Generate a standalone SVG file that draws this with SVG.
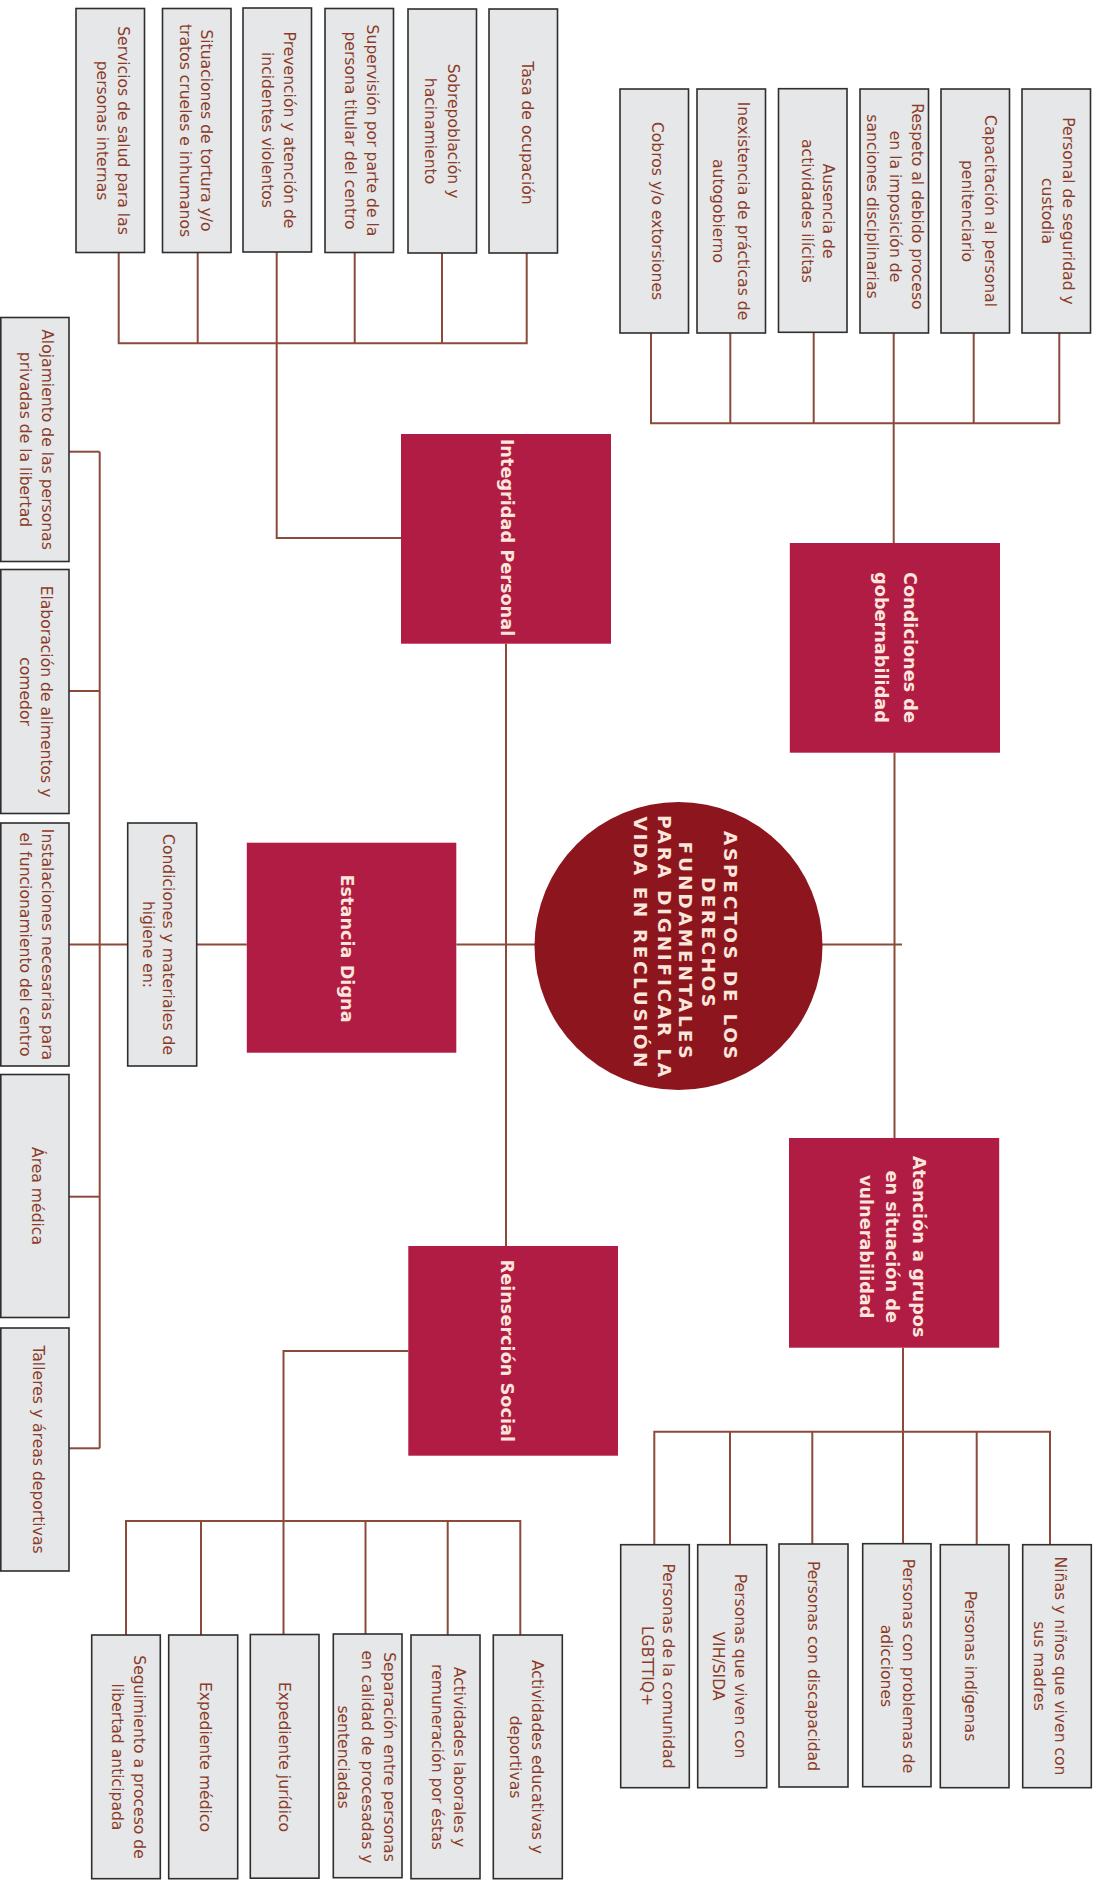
<svg xmlns="http://www.w3.org/2000/svg" width="1099" height="1895" viewBox="0 0 1099 1895">
<style>
.conn path{stroke:#8C4A3B;stroke-width:2;fill:none}
.leaf{fill:#E6E7E8;stroke:#2E2E2E;stroke-width:1.6}
.lt,.lt tspan{font-family:"DejaVu Sans",sans-serif;font-size:15.6px;fill:#8A3B29;text-anchor:middle;dominant-baseline:central}
.main{fill:#B01C44}
.mt,.mt tspan{font-family:"DejaVu Sans",sans-serif;font-weight:bold;font-size:17.7px;fill:#FCE5DA;text-anchor:middle;dominant-baseline:central}
.ct{font-family:"DejaVu Sans",sans-serif;font-weight:bold;font-size:18.5px;fill:#FCE5DA;text-anchor:middle;dominant-baseline:central}
</style>
<rect width="1099" height="1895" fill="#FFFFFF"/>
<g id="connectors" class="conn">
<path d="M118.7,252.5 V343.3 H526.7 V253"/>
<path d="M197.7,252.5 V343.3"/>
<path d="M354.7,252.5 V343.3"/>
<path d="M442,253 V343.3"/>
<path d="M276.7,252 V538 H401"/>
<path d="M651,333 V423.3 H1059.3 V333"/>
<path d="M730.3,333 V423.3"/>
<path d="M813.7,332.5 V423.3"/>
<path d="M973.7,333 V423.3"/>
<path d="M893.7,333 V543"/>
<path d="M506,643.7 V1246"/>
<path d="M456.3,944.5 H535"/>
<path d="M822,944.5 H902"/>
<path d="M894.5,752.7 V1138"/>
<path d="M903,1347.7 V1544.7"/>
<path d="M654.3,1544.7 V1431.7 H1050 V1544.7"/>
<path d="M730,1431.7 V1544.7"/>
<path d="M812.3,1431.7 V1544.7"/>
<path d="M976.7,1431.7 V1544.7"/>
<path d="M69,944.5 H127.7"/>
<path d="M196.7,944.5 H246.8"/>
<path d="M99.7,451.7 V1448.3"/>
<path d="M69,451.7 H99.7"/>
<path d="M69,691 H99.7"/>
<path d="M69,1196.7 H99.7"/>
<path d="M69,1448.3 H99.7"/>
<path d="M408.3,1351 H283.5 V1635"/>
<path d="M126,1635 V1521 H520.3 V1635"/>
<path d="M201,1521 V1635"/>
<path d="M365.5,1521 V1635"/>
<path d="M447.7,1521 V1635"/>
</g>

<g id="center">
<circle cx="678.5" cy="946" r="144" fill="#8D161E"/>
<g transform="rotate(90)">
<text class="ct" x="945" y="-730" textLength="228" lengthAdjust="spacing">ASPECTOS DE LOS</text>
<text class="ct" x="942" y="-708.8" textLength="130" lengthAdjust="spacing">DERECHOS</text>
<text class="ct" x="950" y="-685.2" textLength="217" lengthAdjust="spacing">FUNDAMENTALES</text>
<text class="ct" x="946" y="-664" textLength="262" lengthAdjust="spacing">PARA DIGNIFICAR LA</text>
<text class="ct" x="942" y="-640.4" textLength="251" lengthAdjust="spacing">VIDA EN RECLUSIÓN</text>
</g>
</g>

<g id="integridad">
<rect class="main" x="401" y="434" width="210" height="209.7"/>
<text class="mt" transform="rotate(90)"><tspan x="537.5" y="-506.5">Integridad Personal</tspan></text>
</g>
<g id="gobernabilidad">
<rect class="main" x="789.8" y="543" width="210.2" height="209.7"/>
<text class="mt" transform="rotate(90)"><tspan x="647.5" y="-909.8">Condiciones de</tspan><tspan x="647.5" y="-881.2">gobernabilidad</tspan></text>
</g>
<g id="estancia">
<rect class="main" x="246.8" y="842.7" width="209.5" height="210"/>
<text class="mt" transform="rotate(90)"><tspan x="948.5" y="-346.8">Estancia Digna</tspan></text>
</g>
<g id="reinsercion">
<rect class="main" x="408.3" y="1246" width="209.7" height="209.7"/>
<text class="mt" transform="rotate(90)"><tspan x="1350.8" y="-506.5">Reinserción Social</tspan></text>
</g>
<g id="atencion">
<rect class="main" x="789" y="1138" width="210.2" height="209.7"/>
<text class="mt" transform="rotate(90)"><tspan x="1246.7" y="-918.8">Atención a grupos</tspan><tspan x="1246.7" y="-892.2">en situación de</tspan><tspan x="1246.7" y="-865.7">vulnerabilidad</tspan></text>
</g>

<g id="ip1"><rect class="leaf" x="76" y="8.5" width="68.5" height="244"/>
<text class="lt" transform="rotate(90)"><tspan x="130.5" y="-123.3">Servicios de salud para las</tspan><tspan x="130.5" y="-101.7">personas internas</tspan></text></g>
<g id="ip2"><rect class="leaf" x="162.5" y="8.5" width="68.5" height="244"/>
<text class="lt" transform="rotate(90)"><tspan x="130.5" y="-206">Situaciones de tortura y/o</tspan><tspan x="130.5" y="-185">tratos crueles e inhumanos</tspan></text></g>
<g id="ip3"><rect class="leaf" x="243" y="8" width="68.5" height="244"/>
<text class="lt" transform="rotate(90)"><tspan x="130" y="-289">Prevención y atención de</tspan><tspan x="130" y="-266.7">incidentes violentos</tspan></text></g>
<g id="ip4"><rect class="leaf" x="325" y="8.5" width="68.5" height="244"/>
<text class="lt" transform="rotate(90)"><tspan x="130.5" y="-371.7">Supervisión por parte de la</tspan><tspan x="130.5" y="-350">persona titular del centro</tspan></text></g>
<g id="ip5"><rect class="leaf" x="408" y="9" width="68.5" height="244"/>
<text class="lt" transform="rotate(90)"><tspan x="131" y="-452.7">Sobrepoblación y</tspan><tspan x="131" y="-430">hacinamiento</tspan></text></g>
<g id="ip6"><rect class="leaf" x="489" y="9" width="68.5" height="244"/>
<text class="lt" transform="rotate(90)"><tspan x="133" y="-527">Tasa de ocupación</tspan></text></g>

<g id="cg1"><rect class="leaf" x="620" y="89" width="68.5" height="244"/>
<text class="lt" transform="rotate(90)"><tspan x="211" y="-656.7">Cobros y/o extorsiones</tspan></text></g>
<g id="cg2"><rect class="leaf" x="697" y="89" width="68.5" height="244"/>
<text class="lt" transform="rotate(90)"><tspan x="211" y="-742.7">Inexistencia de prácticas de</tspan><tspan x="211" y="-718.3">autogobierno</tspan></text></g>
<g id="cg3"><rect class="leaf" x="778.5" y="88.7" width="68.5" height="243.6"/>
<text class="lt" transform="rotate(90)"><tspan x="211" y="-828.3">Ausencia de</tspan><tspan x="211" y="-806.7">actividades ilícitas</tspan></text></g>
<g id="cg4"><rect class="leaf" x="860" y="89" width="68.5" height="244"/>
<text class="lt" transform="rotate(90)"><tspan x="206.5" y="-916.7">Respeto al debido proceso</tspan><tspan x="206.5" y="-895">en la imposición de</tspan><tspan x="206.5" y="-871.7">sanciones disciplinarias</tspan></text></g>
<g id="cg5"><rect class="leaf" x="941" y="89" width="68.5" height="244"/>
<text class="lt" transform="rotate(90)"><tspan x="211" y="-990">Capacitación al personal</tspan><tspan x="211" y="-966.7">penitenciario</tspan></text></g>
<g id="cg6"><rect class="leaf" x="1022" y="89" width="68.5" height="244"/>
<text class="lt" transform="rotate(90)"><tspan x="211" y="-1068.3">Personal de seguridad y</tspan><tspan x="211" y="-1046.7">custodia</tspan></text></g>

<g id="ed0"><rect class="leaf" x="127.7" y="823" width="69" height="243"/>
<text class="lt" transform="rotate(90)"><tspan x="944.5" y="-168.3">Condiciones y materiales de</tspan><tspan x="944.5" y="-147.5">higiene en:</tspan></text></g>
<g id="ed1"><rect class="leaf" x="0.8" y="317.5" width="68.2" height="244"/>
<text class="lt" transform="rotate(90)"><tspan x="439.5" y="-46.7">Alojamiento de las personas</tspan><tspan x="439.5" y="-25">privadas de la libertad</tspan></text></g>
<g id="ed2"><rect class="leaf" x="0.8" y="569.5" width="68.2" height="244"/>
<text class="lt" transform="rotate(90)"><tspan x="691.5" y="-46">Elaboración de alimentos y</tspan><tspan x="691.5" y="-24.5">comedor</tspan></text></g>
<g id="ed3"><rect class="leaf" x="0.8" y="823" width="68.2" height="243"/>
<text class="lt" transform="rotate(90)"><tspan x="944.5" y="-46.7">Instalaciones necesarias para</tspan><tspan x="944.5" y="-25">el funcionamiento del centro</tspan></text></g>
<g id="ed4"><rect class="leaf" x="0.8" y="1074.5" width="68.2" height="243"/>
<text class="lt" transform="rotate(90)"><tspan x="1196" y="-37">Área médica</tspan></text></g>
<g id="ed5"><rect class="leaf" x="0.8" y="1328" width="68.2" height="243"/>
<text class="lt" transform="rotate(90)"><tspan x="1449.5" y="-38">Talleres y áreas deportivas</tspan></text></g>

<g id="rs1"><rect class="leaf" x="91.7" y="1635" width="68.6" height="243.7"/>
<text class="lt" transform="rotate(90)"><tspan x="1757" y="-139.3">Seguimiento a proceso de</tspan><tspan x="1757" y="-117.3">libertad anticipada</tspan></text></g>
<g id="rs2"><rect class="leaf" x="168.7" y="1635" width="69" height="243.7"/>
<text class="lt" transform="rotate(90)"><tspan x="1757" y="-205">Expediente médico</tspan></text></g>
<g id="rs3"><rect class="leaf" x="250.3" y="1634.5" width="68.7" height="243.7"/>
<text class="lt" transform="rotate(90)"><tspan x="1757" y="-284">Expediente jurídico</tspan></text></g>
<g id="rs4"><rect class="leaf" x="333.3" y="1634" width="68.7" height="243.7"/>
<text class="lt" transform="rotate(90)"><tspan x="1757" y="-389.3">Separación entre personas</tspan><tspan x="1757" y="-366.7">en calidad de procesadas y</tspan><tspan x="1757" y="-343.3">sentenciadas</tspan></text></g>
<g id="rs5"><rect class="leaf" x="411" y="1635" width="69" height="243.7"/>
<text class="lt" transform="rotate(90)"><tspan x="1757" y="-459.3">Actividades laborales y</tspan><tspan x="1757" y="-436.7">remuneración por éstas</tspan></text></g>
<g id="rs6"><rect class="leaf" x="493.3" y="1635" width="69" height="243.7"/>
<text class="lt" transform="rotate(90)"><tspan x="1757" y="-537.3">Actividades educativas y</tspan><tspan x="1757" y="-515">deportivas</tspan></text></g>

<g id="gv1"><rect class="leaf" x="620.7" y="1544.7" width="68.6" height="243"/>
<text class="lt" transform="rotate(90)"><tspan x="1666" y="-668.3">Personas de la comunidad</tspan><tspan x="1666" y="-646.7">LGBTTIQ+</tspan></text></g>
<g id="gv2"><rect class="leaf" x="697.7" y="1544.7" width="69" height="243"/>
<text class="lt" transform="rotate(90)"><tspan x="1666" y="-740">Personas que viven con</tspan><tspan x="1666" y="-718.3">VIH/SIDA</tspan></text></g>
<g id="gv3"><rect class="leaf" x="779" y="1544" width="69" height="243"/>
<text class="lt" transform="rotate(90)"><tspan x="1666" y="-813.3">Personas con discapacidad</tspan></text></g>
<g id="gv4"><rect class="leaf" x="862.7" y="1543.7" width="68.3" height="243"/>
<text class="lt" transform="rotate(90)"><tspan x="1666" y="-908.3">Personas con problemas de</tspan><tspan x="1666" y="-886">adicciones</tspan></text></g>
<g id="gv5"><rect class="leaf" x="940.3" y="1544.7" width="68.7" height="243"/>
<text class="lt" transform="rotate(90)"><tspan x="1666" y="-970">Personas indígenas</tspan></text></g>
<g id="gv6"><rect class="leaf" x="1022.7" y="1544.7" width="68.6" height="243"/>
<text class="lt" transform="rotate(90)"><tspan x="1666" y="-1060">Niñas y niños que viven con</tspan><tspan x="1666" y="-1039.3">sus madres</tspan></text></g>
</svg>
